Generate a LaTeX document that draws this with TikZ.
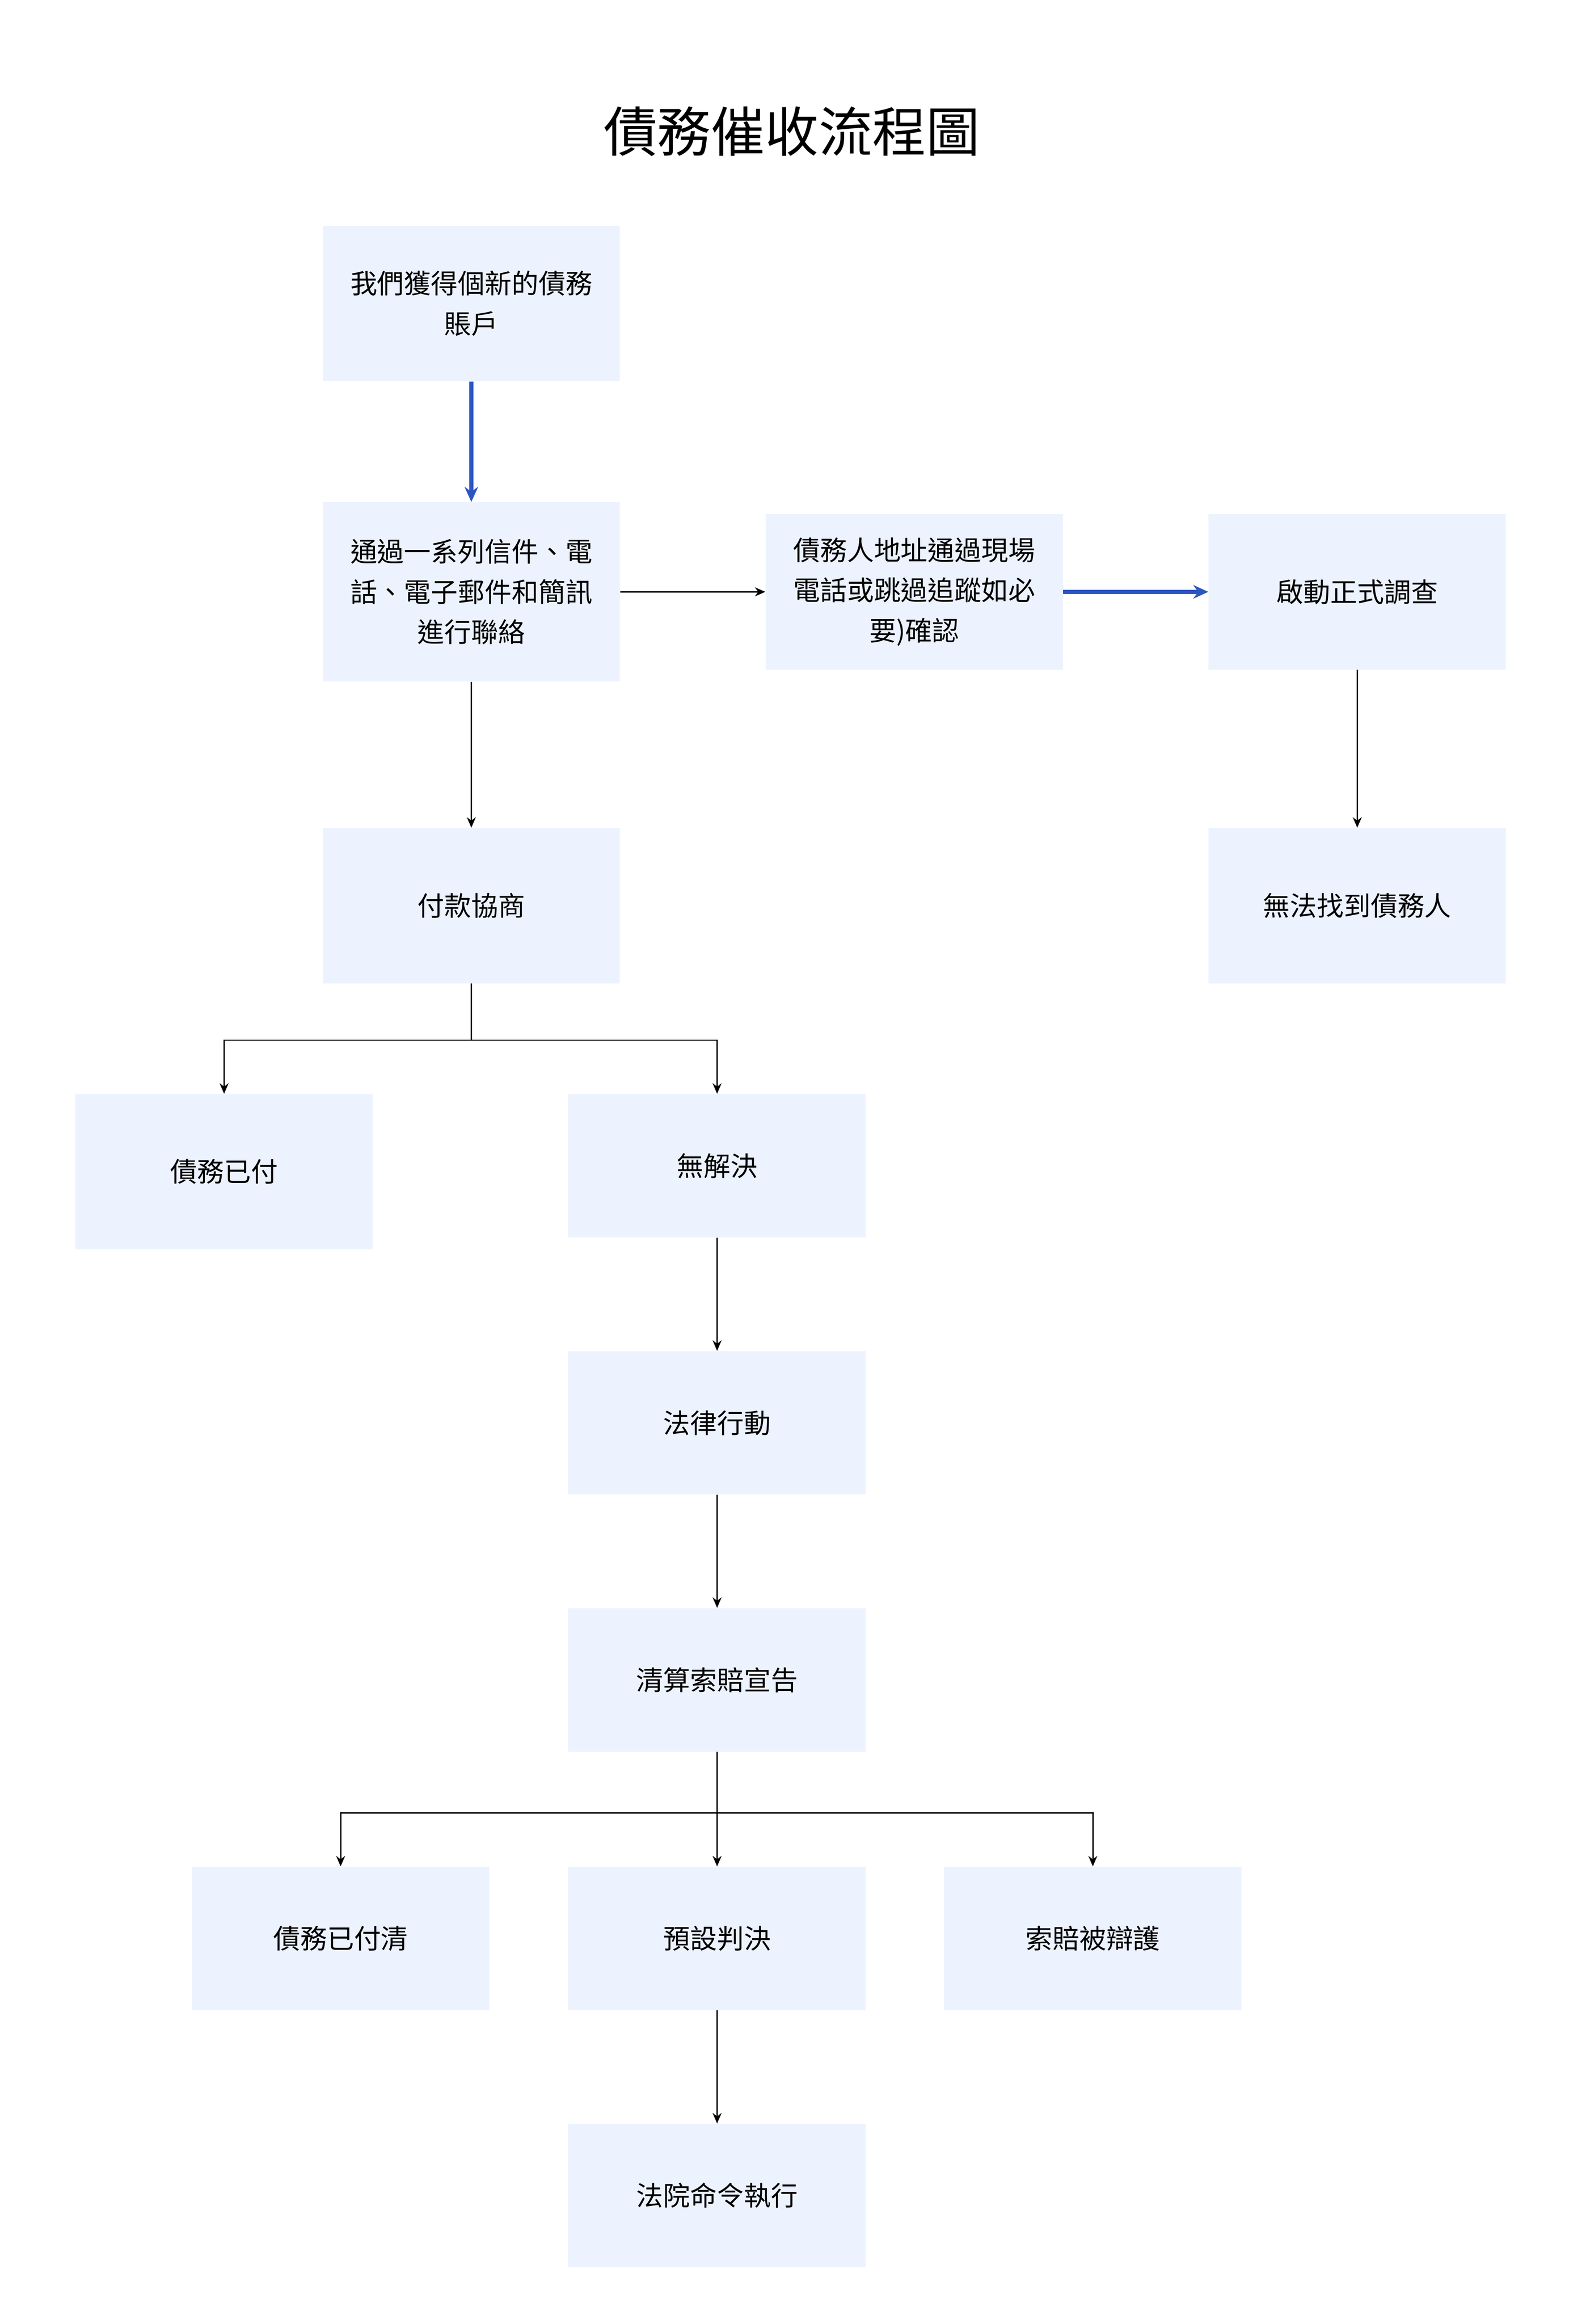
\documentclass[tikz,border=0pt]{standalone}
\usepackage{fontspec}
\setmainfont{Noto Sans CJK TC}
\usetikzlibrary{arrows.meta}
\definecolor{boxfill}{HTML}{EDF3FE}
\definecolor{blueline}{HTML}{2D55C0}
\begin{document}
\begin{tikzpicture}[x=1pt,y=-1pt,
  box/.style={fill=boxfill,draw=none,minimum width=199pt,align=center,font=\fontsize{18}{27}\selectfont,inner sep=0pt},
  ar/.style={-{Stealth[length=7pt,width=6pt]},line width=0.9pt,black},
  bar/.style={-{Stealth[length=10pt,width=9pt]},line width=2.6pt,blueline}]
\useasboundingbox (0,0) rectangle (1050,1555);
\node[font=\fontsize{36}{40}\selectfont] (title) at (530,88) {債務催收流程圖};
\node[box,minimum height=104pt] (A) at (315.5,203) {我們獲得個新的債務\\賬戶};
\node[box,minimum height=120pt] (B) at (315.5,396) {通過一系列信件、電\\話、電子郵件和簡訊\\進行聯絡};
\node[box,minimum height=104pt] (C) at (612,396) {債務人地址通過現場\\電話或跳過追蹤如必\\要)確認};
\node[box,minimum height=104pt] (D) at (908.5,396) {啟動正式調查};
\node[box,minimum height=104pt] (E) at (908.5,606) {無法找到債務人};
\node[box,minimum height=104pt] (F) at (315.5,606) {付款協商};
\node[box,minimum height=104pt] (G) at (150,784) {債務已付};
\node[box,minimum height=96pt] (H) at (480,780) {無解決};
\node[box,minimum height=96pt] (I) at (480,952) {法律行動};
\node[box,minimum height=96pt] (J) at (480,1124) {清算索賠宣告};
\node[box,minimum height=96pt] (K) at (228,1297) {債務已付清};
\node[box,minimum height=96pt] (L) at (480,1297) {預設判決};
\node[box,minimum height=96pt] (M) at (731.5,1297) {索賠被辯護};
\node[box,minimum height=96pt] (N) at (480,1469) {法院命令執行};
\draw[bar] (A) -- (B);
\draw[ar] (B) -- (C);
\draw[bar] (C) -- (D);
\draw[ar] (D) -- (E);
\draw[ar] (B) -- (F);
\coordinate (f1) at (315.5,696);
\draw[ar] (F.south) -- (f1) -| (G.north);
\draw[ar] (F.south) -- (f1) -| (H.north);
\draw[ar] (H) -- (I);
\draw[ar] (I) -- (J);
\coordinate (j1) at (480,1213);
\draw[ar] (J.south) -- (j1) -| (K.north);
\draw[ar] (J.south) -- (j1) -| (M.north);
\draw[ar] (J) -- (L);
\draw[ar] (L) -- (N);
\end{tikzpicture}
\end{document}
